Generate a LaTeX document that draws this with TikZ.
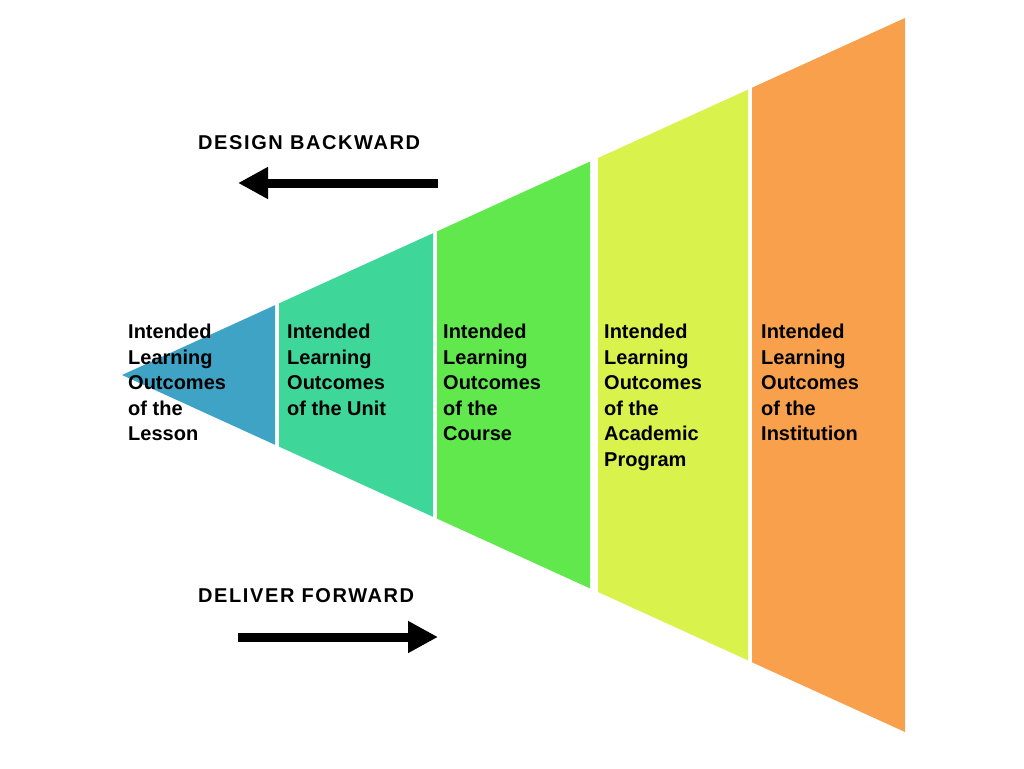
\documentclass[tikz,border=0pt]{standalone}
\usepackage{fontspec}
\setmainfont{Liberation Sans}
\usetikzlibrary{arrows.meta}
\definecolor{cA}{HTML}{3FA3C6}
\definecolor{cB}{HTML}{3FD69A}
\definecolor{cC}{HTML}{60E84C}
\definecolor{cD}{HTML}{DAF24C}
\definecolor{cE}{HTML}{F9A04C}
\tikzset{lbl/.style={anchor=north west,align=left,inner sep=0pt,font=\fontsize{20}{25.5}\selectfont\bfseries},
head/.style={anchor=west,inner sep=0pt,font=\fontsize{20}{24}\selectfont\bfseries},
bigarrow/.style={line width=9pt,-{Triangle[length=30pt,width=30pt]}}}
\begin{document}
\begin{tikzpicture}[x=1pt,y=-1pt]
\useasboundingbox (0,0) rectangle (1024,768);
\fill[cA] (122,375) -- (275,305.2) -- (275,444.8) -- cycle;
\fill[cB] (279,303.4) -- (433,233.2) -- (433,516.8) -- (279,446.6) -- cycle;
\fill[cC] (437,231.4) -- (590,161.6) -- (590,588.4) -- (437,518.6) -- cycle;
\fill[cD] (598,158) -- (748,89.6) -- (748,660.4) -- (598,592) -- cycle;
\fill[cE] (752,87.7) -- (905,18) -- (905,732) -- (752,662.3) -- cycle;
\node[lbl] (t1) at (128,324) {Intended\\Learning\\Outcomes\\of the\\Lesson};
\node[lbl] (t2) at (287,324) {Intended\\Learning\\Outcomes\\of the Unit};
\node[lbl] (t3) at (443,324) {Intended\\Learning\\Outcomes\\of the\\Course};
\node[lbl] (t4) at (604,324) {Intended\\Learning\\Outcomes\\of the\\Academic\\Program};
\node[lbl] (t5) at (761,324) {Intended\\Learning\\Outcomes\\of the\\Institution};
\node[head] (h1) at (198,143) {\addfontfeature{LetterSpace=8}DESIGN BACKWARD};
\node[head] (h2) at (198,596) {\addfontfeature{LetterSpace=8}DELIVER FORWARD};
\coordinate (a1) at (438,183); \coordinate (b1) at (238,183);
\coordinate (a2) at (238,637); \coordinate (b2) at (438,637);
\draw[bigarrow] (a1) -- (b1);
\draw[bigarrow] (a2) -- (b2);
\end{tikzpicture}
\end{document}
